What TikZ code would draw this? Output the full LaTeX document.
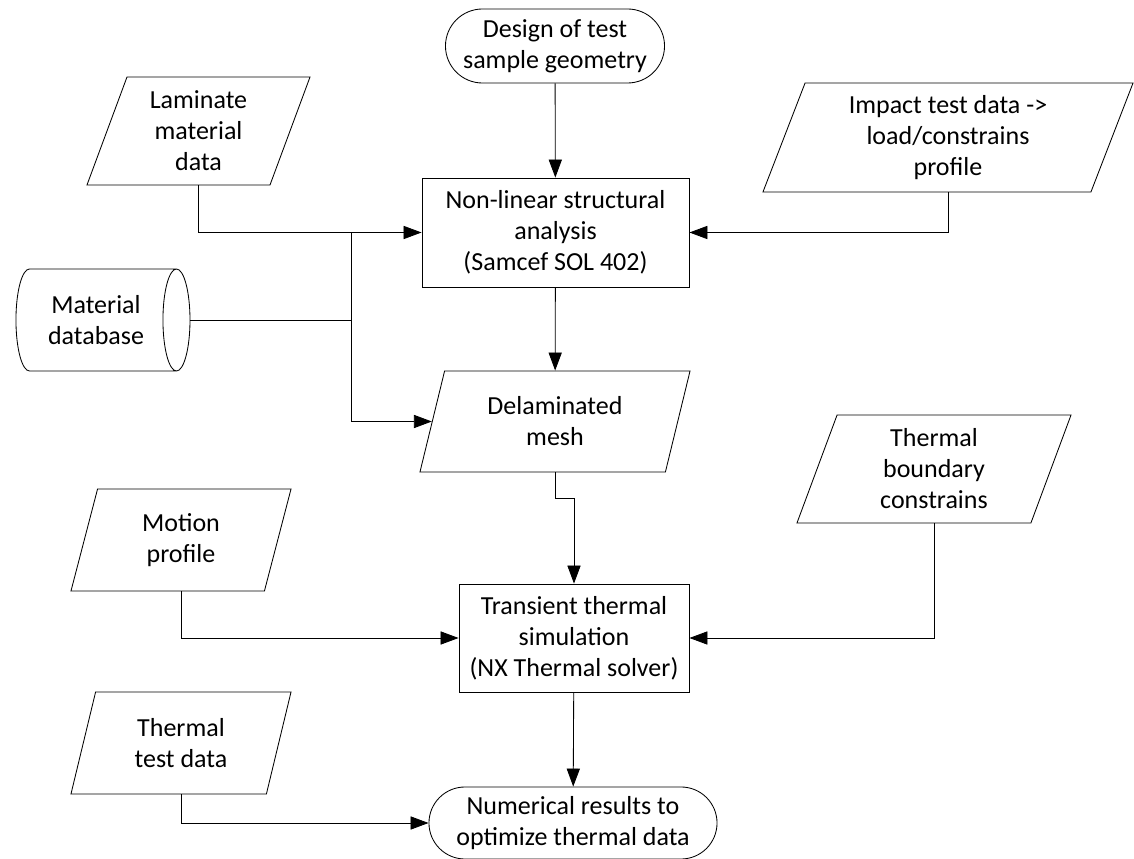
\documentclass[tikz,border=0pt]{standalone}
\usepackage{fontspec}
\setmainfont{Carlito}
\usetikzlibrary{shapes.geometric,shapes.misc,arrows.meta}

\begin{document}
\begin{tikzpicture}[x=0.025cm,y=-0.025cm,
        font=\fontsize{18.5}{22}\selectfont,
        every node/.style={align=center,line width=0.6pt},
        term/.style={draw,rounded rectangle,inner sep=0pt},
        proc/.style={draw,rectangle,inner sep=0pt},
        data/.style={draw,trapezium,trapezium left angle=63.4,trapezium right angle=116.6,
                trapezium stretches body,inner sep=0pt},
        store/.style={draw,cylinder,aspect=0.55,inner sep=0pt},
        arr/.style={-{Triangle[length=4.5mm,width=3.3mm]},line width=0.6pt}]
                \useasboundingbox (0,0) rectangle (1134,859);

                \node[term,minimum width=5.475cm,minimum height=1.85cm] (design) at (555,46) {Design of test\\sample geometry};
                \node[proc,minimum width=6.675cm,minimum height=2.725cm] (nonlin) at (555.5,232.5) {Non-linear structural\\analysis\\(Samcef SOL 402)};
                \node[data,minimum width=5.575cm,minimum height=2.7cm] (laminate) at (198.5,131) {Laminate\\material\\data};
                \node[data,minimum width=9.25cm,minimum height=2.725cm] (impact) at (948,137.5) {Impact test data ->\\load/constrains\\profile};
                \node[store,minimum width=2.55cm,minimum height=4.35cm] (matdb) at (96,320) {Material\\database};
                \node[data,minimum width=6.75cm,minimum height=2.525cm] (delam) at (555,421.5) {Delaminated\\mesh};
                \node[data,minimum width=6.85cm,minimum height=2.7cm] (tbound) at (934,469) {Thermal\\boundary\\constrains};
                \node[data,minimum width=5.5cm,minimum height=2.55cm] (motion) at (181,540) {Motion\\profile};
                \node[proc,minimum width=5.75cm,minimum height=2.7cm] (transient) at (574,638) {Transient thermal\\simulation\\(NX Thermal solver)};
                \node[data,minimum width=5.5cm,minimum height=2.55cm] (ttest) at (181,743) {Thermal\\test data};
                \node[term,minimum width=7.2cm,minimum height=1.8cm] (numres) at (573,823) {Numerical results to\\optimize thermal data};

                \coordinate (split) at (351,232.5);

                \draw[arr] (design) -- (nonlin);
                \draw[arr] (laminate.south) |- (nonlin.west);
                \draw[arr] (impact.south) |- (nonlin.east);
                \draw (matdb.east) -- (matdb.east -| split);
                \draw[arr] (split) |- (delam.west);
                \draw[arr] (nonlin) -- (delam);
                \draw[arr] (delam.south) -- ++(0,26) -| (transient.north);
                \draw[arr] (motion.south) |- (transient.west);
                \draw[arr] (tbound.south) |- (transient.east);
                \draw[arr] (transient) -- (numres);
                \draw[arr] (ttest.south) |- (numres.west);
        \end{tikzpicture}
\end{document}
